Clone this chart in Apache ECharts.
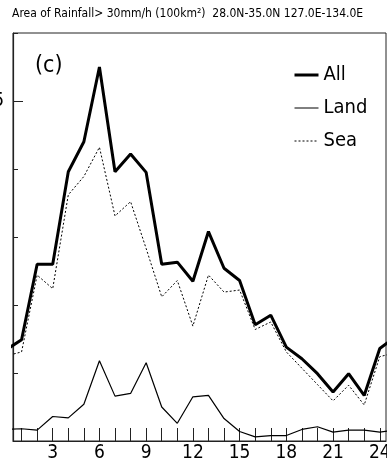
<!DOCTYPE html>
<html lang="en">
<head>
    <meta charset="UTF-8">
    <title>Area of Rainfall</title>
    <style>
        body{
            margin: 0;
            background-color: #fff;
        }
    </style>
    <script src="https://cdn.jsdelivr.net/npm/echarts@6/dist/echarts.min.js"></script>
</head>
<body>
<div id="chart" style="width: 387px;height:463px;"></div>
<script type="text/javascript">
    var fontNarrow = "'Liberation Sans Narrow', 'DejaVu Sans Condensed', sans-serif";

    // hours (0 and 25 fall outside the frame and get clipped)
    var hours = [0,1,2,3,4,5,6,7,8,9,10,11,12,13,14,15,16,17,18,19,20,21,22,23,24,25];
    var allArea = [1.34,1.49,2.60,2.60,3.96,4.40,5.50,3.96,4.22,3.95,2.60,2.63,2.35,3.08,2.54,2.36,1.71,1.85,1.38,1.21,0.99,0.72,0.99,0.67,1.36,1.53];
    var landArea = [0.17,0.18,0.16,0.36,0.34,0.54,1.18,0.66,0.70,1.15,0.50,0.26,0.65,0.67,0.33,0.14,0.06,0.08,0.08,0.17,0.21,0.13,0.16,0.16,0.13,0.16];
    var seaArea = [1.25,1.31,2.44,2.24,3.62,3.89,4.32,3.31,3.52,2.83,2.12,2.36,1.69,2.44,2.19,2.22,1.64,1.75,1.31,1.07,0.83,0.59,0.82,0.53,1.24,1.30];
    var hourTicks = [1,2,3,4,5,6,7,8,9,10,11,12,13,14,15,16,17,18,19,20,21,22,23,24];
    var hourLabels = [3,6,9,12,15,18,21,24];

    function pairs(vals){
        var out = [];
        for(var i=0;i<hours.length;i++){
            out.push([hours[i], vals[i]]);
        }
        return out;
    }

    var option = {
        animation: false,
        title: [{
            text: 'Area of Rainfall> 30mm/h (100km\u00B2)  28.0N-35.0N 127.0E-134.0E',
            left: 12,
            top: 8,
            padding: 0,
            textStyle: {fontFamily: fontNarrow, fontSize: 12, fontWeight: 'normal', color: '#000'}
        },{
            text: '(c)',
            left: 35,
            top: 55,
            padding: 0,
            textStyle: {fontFamily: fontNarrow, fontSize: 23, fontWeight: 'normal', color: '#000'}
        }],
        legend: {
            orient: 'vertical',
            left: 293,
            top: 61,
            padding: 0,
            itemWidth: 24,
            itemHeight: 14,
            itemGap: 5,
            itemStyle: {opacity: 0},
            textStyle: {fontFamily: fontNarrow, fontSize: 20, lineHeight: 28, color: '#000'},
            data: [
                {name: 'All', lineStyle: {width: 3}},
                {name: 'Land', lineStyle: {width: 1}},
                {name: 'Sea', lineStyle: {width: 1}}
            ]
        },
        grid: {
            left: 13, right: 1, top: 33, bottom: 22,
            outerBoundsMode: 'none',
            show: true, borderColor: '#222', borderWidth: 1
        },
        xAxis: {
            type: 'value',
            min: 0.45,
            max: 24.4,
            splitLine: {show: false},
            axisLine: {lineStyle: {color: '#222', width: 1.2}},
            axisTick: {inside: true, length: 13, customValues: hourTicks, lineStyle: {color: '#222', width: 1}},
            axisLabel: {customValues: hourLabels, margin: 3, fontFamily: fontNarrow, fontSize: 19, color: '#000'}
        },
        yAxis: [{
            type: 'value',
            min: 0,
            max: 6,
            interval: 1,
            splitLine: {show: false},
            axisLine: {show: true, lineStyle: {color: '#222', width: 1.2}},
            axisTick: {inside: true, length: 5, lineStyle: {color: '#222'}},
            axisLabel: {customValues: [5], margin: 9, fontFamily: fontNarrow, fontSize: 19, color: '#000'}
        },{
            type: 'value',
            position: 'left',
            min: 0,
            max: 6,
            splitLine: {show: false},
            axisLine: {show: false},
            axisTick: {inside: true, length: 10, customValues: [5], lineStyle: {color: '#222'}},
            axisLabel: {show: false}
        }],
        series: [{
            name: 'All',
            type: 'line',
            symbol: 'none',
            data: pairs(allArea),
            itemStyle: {color: '#000'},
            lineStyle: {color: '#000', width: 3}
        },{
            name: 'Land',
            type: 'line',
            symbol: 'none',
            data: pairs(landArea),
            itemStyle: {color: '#000'},
            lineStyle: {color: '#000', width: 1.2}
        },{
            name: 'Sea',
            type: 'line',
            symbol: 'none',
            data: pairs(seaArea),
            itemStyle: {color: '#000'},
            lineStyle: {color: '#000', width: 1, type: [2, 2]}
        }]
    };
    var chart = echarts.init(document.getElementById('chart'));
    chart.setOption(option);
</script>
</body>
</html>
